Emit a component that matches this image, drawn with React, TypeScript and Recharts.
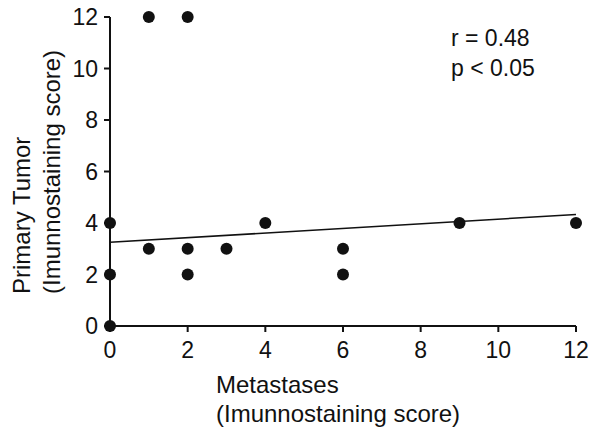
import { ScatterChart, Scatter, XAxis, YAxis, ReferenceLine, Customized } from "recharts";

const metastases = [0, 0, 0, 1, 2, 1, 2, 2, 3, 4, 6, 6, 9, 12];
const primaryTumor = [0, 2, 4, 12, 12, 3, 3, 2, 3, 4, 3, 2, 4, 4];
const ticks = [0, 2, 4, 6, 8, 10, 12];
// fitted line, end points
const fitLine = [
  { x: 0, y: 3.25 },
  { x: 12, y: 4.33 },
];
const stats = ["r = 0.48", "p < 0.05"];
const yLabel = ["Primary Tumor", "(Imunnostaining score)"];
const xLabel = ["Metastases", "(Imunnostaining score)"];

const FONT = "'Liberation Sans', Arial, Helvetica, sans-serif";
const INK = "#111";

const points = metastases.map((x, i) => ({ x, y: primaryTumor[i] }));

function Dot(props: any) {
  const { cx, cy } = props;
  return <circle cx={cx} cy={cy} r={6} fill={INK} />;
}

function Texts() {
  return (
    <g fontFamily={FONT} fill={INK} fontSize={24}>
      {stats.map((s, i) => (
        <text key={s} x={451} y={46 + i * 30} fontSize={23}>{s}</text>
      ))}
      {xLabel.map((s, i) => (
        <text key={s} x={216} y={393 + i * 29}>{s}</text>
      ))}
      {yLabel.map((s, i) => {
        const bx = 30 + i * 30;
        return (
          <text key={s} x={bx} y={294} transform={`rotate(-90, ${bx}, 294)`}>{s}</text>
        );
      })}
    </g>
  );
}

export default function App() {
  const tickStyle = { fontSize: 23, fill: INK, fontFamily: FONT };
  return (
    <div style={{ position: "absolute", left: 0, top: 0, background: "#fff" }}>
      <ScatterChart width={601} height={433} margin={{ top: 17, right: 25, bottom: 47, left: 50 }}>
        <XAxis
          type="number"
          dataKey="x"
          domain={[0, 12]}
          ticks={ticks}
          height={60}
          tickSize={6}
          tickMargin={10}
          tick={tickStyle}
          stroke={INK}
          strokeWidth={2}
          tickLine={{ stroke: INK, strokeWidth: 2 }}
          axisLine={{ stroke: INK, strokeWidth: 2 }}
        />
        <YAxis
          type="number"
          dataKey="y"
          domain={[0, 12]}
          ticks={ticks}
          width={60}
          tickSize={6}
          tickMargin={6}
          tick={tickStyle}
          stroke={INK}
          strokeWidth={2}
          tickLine={{ stroke: INK, strokeWidth: 2 }}
          axisLine={{ stroke: INK, strokeWidth: 2 }}
        />
        <ReferenceLine
          segment={fitLine}
          stroke={INK}
          strokeWidth={1.6}
          ifOverflow="visible"
        />
        <Scatter data={points} shape={<Dot />} isAnimationActive={false} />
        <Customized component={Texts} />
      </ScatterChart>
    </div>
  );
}
